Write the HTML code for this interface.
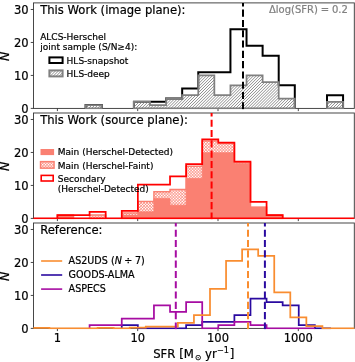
<!DOCTYPE html>
<html lang="en"><head><meta charset="utf-8"><title>SFR histograms</title>
<style>html,body{margin:0;padding:0;background:#ffffff}body{width:355px;height:362px;overflow:hidden}svg{display:block}text{stroke:#000;stroke-width:0.2px}text.g{stroke:#808080}</style>
</head><body>
<svg width="355" height="362" viewBox="0 0 355 362" font-family="'DejaVu Sans', 'Liberation Sans', sans-serif" stroke-linecap="butt">
<defs>
<clipPath id="c1"><rect x="33.45" y="2.9" width="320.85" height="106.3"/></clipPath>
<clipPath id="c2"><rect x="33.45" y="113" width="320.85" height="106.2"/></clipPath>
<clipPath id="c3"><rect x="33.45" y="223" width="320.85" height="106.2"/></clipPath>
</defs>
<rect width="355" height="362" fill="#ffffff"/>
<rect x="33.45" y="2.9" width="320.85" height="105.5" fill="none" stroke="#333333" stroke-width="0.9"/>
<line x1="57.4" x2="57.4" y1="108.4" y2="111.1" stroke="#333333" stroke-width="0.9"/>
<line x1="137.7" x2="137.7" y1="108.4" y2="111.1" stroke="#333333" stroke-width="0.9"/>
<line x1="218" x2="218" y1="108.4" y2="111.1" stroke="#333333" stroke-width="0.9"/>
<line x1="298.3" x2="298.3" y1="108.4" y2="111.1" stroke="#333333" stroke-width="0.9"/>
<line x1="30.75" x2="33.45" y1="108.4" y2="108.4" stroke="#333333" stroke-width="0.9"/>
<text x="28.55" y="112.7" font-size="11.5" text-anchor="end" fill="#000000">0</text>
<line x1="30.75" x2="33.45" y1="75.43" y2="75.43" stroke="#333333" stroke-width="0.9"/>
<text x="28.55" y="79.73" font-size="11.5" text-anchor="end" fill="#000000">10</text>
<line x1="30.75" x2="33.45" y1="42.46" y2="42.46" stroke="#333333" stroke-width="0.9"/>
<text x="28.55" y="46.76" font-size="11.5" text-anchor="end" fill="#000000">20</text>
<line x1="30.75" x2="33.45" y1="9.49" y2="9.49" stroke="#333333" stroke-width="0.9"/>
<text x="28.55" y="13.79" font-size="11.5" text-anchor="end" fill="#000000">30</text>
<text transform="translate(9.3 56.35) rotate(-90)" font-size="12.5" font-style="italic" text-anchor="middle" fill="#000000">N</text>
<rect x="33.45" y="113" width="320.85" height="105.4" fill="none" stroke="#333333" stroke-width="0.9"/>
<line x1="57.4" x2="57.4" y1="218.4" y2="221.1" stroke="#333333" stroke-width="0.9"/>
<line x1="137.7" x2="137.7" y1="218.4" y2="221.1" stroke="#333333" stroke-width="0.9"/>
<line x1="218" x2="218" y1="218.4" y2="221.1" stroke="#333333" stroke-width="0.9"/>
<line x1="298.3" x2="298.3" y1="218.4" y2="221.1" stroke="#333333" stroke-width="0.9"/>
<line x1="30.75" x2="33.45" y1="218.4" y2="218.4" stroke="#333333" stroke-width="0.9"/>
<text x="28.55" y="222.7" font-size="11.5" text-anchor="end" fill="#000000">0</text>
<line x1="30.75" x2="33.45" y1="185.43" y2="185.43" stroke="#333333" stroke-width="0.9"/>
<text x="28.55" y="189.73" font-size="11.5" text-anchor="end" fill="#000000">10</text>
<line x1="30.75" x2="33.45" y1="152.46" y2="152.46" stroke="#333333" stroke-width="0.9"/>
<text x="28.55" y="156.76" font-size="11.5" text-anchor="end" fill="#000000">20</text>
<line x1="30.75" x2="33.45" y1="119.49" y2="119.49" stroke="#333333" stroke-width="0.9"/>
<text x="28.55" y="123.79" font-size="11.5" text-anchor="end" fill="#000000">30</text>
<text transform="translate(9.3 166.4) rotate(-90)" font-size="12.5" font-style="italic" text-anchor="middle" fill="#000000">N</text>
<rect x="33.45" y="223" width="320.85" height="105.4" fill="none" stroke="#333333" stroke-width="0.9"/>
<line x1="57.4" x2="57.4" y1="328.4" y2="331.1" stroke="#333333" stroke-width="0.9"/>
<line x1="137.7" x2="137.7" y1="328.4" y2="331.1" stroke="#333333" stroke-width="0.9"/>
<line x1="218" x2="218" y1="328.4" y2="331.1" stroke="#333333" stroke-width="0.9"/>
<line x1="298.3" x2="298.3" y1="328.4" y2="331.1" stroke="#333333" stroke-width="0.9"/>
<line x1="30.75" x2="33.45" y1="328.4" y2="328.4" stroke="#333333" stroke-width="0.9"/>
<text x="28.55" y="332.7" font-size="11.5" text-anchor="end" fill="#000000">0</text>
<line x1="30.75" x2="33.45" y1="295.43" y2="295.43" stroke="#333333" stroke-width="0.9"/>
<text x="28.55" y="299.73" font-size="11.5" text-anchor="end" fill="#000000">10</text>
<line x1="30.75" x2="33.45" y1="262.46" y2="262.46" stroke="#333333" stroke-width="0.9"/>
<text x="28.55" y="266.76" font-size="11.5" text-anchor="end" fill="#000000">20</text>
<line x1="30.75" x2="33.45" y1="229.49" y2="229.49" stroke="#333333" stroke-width="0.9"/>
<text x="28.55" y="233.79" font-size="11.5" text-anchor="end" fill="#000000">30</text>
<text transform="translate(9.3 276.4) rotate(-90)" font-size="12.5" font-style="italic" text-anchor="middle" fill="#000000">N</text>
<text x="57.4" y="341.8" font-size="11.5" text-anchor="middle" fill="#000000">1</text>
<text x="137.7" y="341.8" font-size="11.5" text-anchor="middle" fill="#000000">10</text>
<text x="218" y="341.8" font-size="11.5" text-anchor="middle" fill="#000000">100</text>
<text x="298.3" y="341.8" font-size="11.5" text-anchor="middle" fill="#000000">1000</text>
<text x="153.2" y="358.3" font-size="11.7" word-spacing="0.15" fill="#000000">SFR [M</text>
<text x="198.2" y="359.9" font-size="7.6" text-anchor="middle" fill="#000000">⊙</text>
<text x="205" y="358.3" font-size="11.7" fill="#000000">yr</text>
<text x="217" y="353.3" font-size="8.2" fill="#000000">−1</text>
<text x="229.7" y="358.3" font-size="11.7" fill="#000000">]</text>
<g clip-path="url(#c1)">
<path d="M85.63 108.4 L85.63 105.1 L101.72 105.1 L101.72 108.4" fill="none" stroke="#000000" stroke-width="2" stroke-linejoin="miter"/>
<path d="M133.9 108.4 L133.9 101.81 L149.99 101.81 L149.99 101.81 L166.08 101.81 L166.08 98.51 L182.17 98.51 L182.17 88.62 L198.26 88.62 L198.26 72.13 L214.35 72.13 L214.35 72.13 L230.44 72.13 L230.44 29.27 L246.53 29.27 L246.53 45.76 L262.62 45.76 L262.62 55.65 L278.71 55.65 L278.71 85.32 L294.8 85.32 L294.8 108.4" fill="none" stroke="#000000" stroke-width="2" stroke-linejoin="miter"/>
<path d="M326.98 108.4 L326.98 95.21 L343.07 95.21 L343.07 108.4" fill="none" stroke="#000000" stroke-width="2" stroke-linejoin="miter"/>
<clipPath id="h1"><path d="M85.63 108.4 L85.63 105.1 L101.72 105.1 L101.72 108.4 Z"/></clipPath><path clip-path="url(#h1)" d="M85.63 102.53L101.72 86.44M85.63 105.47L101.72 89.38M85.63 108.41L101.72 92.32M85.63 111.35L101.72 95.26M85.63 114.29L101.72 98.2M85.63 117.23L101.72 101.14M85.63 120.17L101.72 104.08M85.63 123.11L101.72 107.02M85.63 126.05L101.72 109.96" stroke="#686868" stroke-width="0.75" fill="none"/>
<path d="M85.63 108.4 L85.63 105.1 L101.72 105.1 L101.72 108.4 Z" fill="none" stroke="#808080" stroke-width="1.75" stroke-linejoin="miter"/>
<clipPath id="h2"><path d="M133.9 108.4 L133.9 101.81 L149.99 101.81 L149.99 105.1 L166.08 105.1 L166.08 98.51 L182.17 98.51 L182.17 95.21 L198.26 95.21 L198.26 75.43 L214.35 75.43 L214.35 95.21 L230.44 95.21 L230.44 85.32 L246.53 85.32 L246.53 75.43 L262.62 75.43 L262.62 82.02 L278.71 82.02 L278.71 98.51 L294.8 98.51 L294.8 108.4 Z"/></clipPath><path clip-path="url(#h2)" d="M133.9 74.84L294.8 -86.06M133.9 77.78L294.8 -83.12M133.9 80.72L294.8 -80.18M133.9 83.66L294.8 -77.24M133.9 86.6L294.8 -74.3M133.9 89.54L294.8 -71.36M133.9 92.48L294.8 -68.42M133.9 95.42L294.8 -65.48M133.9 98.36L294.8 -62.54M133.9 101.3L294.8 -59.6M133.9 104.24L294.8 -56.66M133.9 107.18L294.8 -53.72M133.9 110.12L294.8 -50.78M133.9 113.06L294.8 -47.84M133.9 116L294.8 -44.9M133.9 118.94L294.8 -41.96M133.9 121.88L294.8 -39.02M133.9 124.82L294.8 -36.08M133.9 127.76L294.8 -33.14M133.9 130.7L294.8 -30.2M133.9 133.64L294.8 -27.26M133.9 136.58L294.8 -24.32M133.9 139.52L294.8 -21.38M133.9 142.46L294.8 -18.44M133.9 145.4L294.8 -15.5M133.9 148.34L294.8 -12.56M133.9 151.28L294.8 -9.62M133.9 154.22L294.8 -6.68M133.9 157.16L294.8 -3.74M133.9 160.1L294.8 -0.8M133.9 163.04L294.8 2.14M133.9 165.98L294.8 5.08M133.9 168.92L294.8 8.02M133.9 171.86L294.8 10.96M133.9 174.8L294.8 13.9M133.9 177.74L294.8 16.84M133.9 180.68L294.8 19.78M133.9 183.62L294.8 22.72M133.9 186.56L294.8 25.66M133.9 189.5L294.8 28.6M133.9 192.44L294.8 31.54M133.9 195.38L294.8 34.48M133.9 198.32L294.8 37.42M133.9 201.26L294.8 40.36M133.9 204.2L294.8 43.3M133.9 207.14L294.8 46.24M133.9 210.08L294.8 49.18M133.9 213.02L294.8 52.12M133.9 215.96L294.8 55.06M133.9 218.9L294.8 58M133.9 221.84L294.8 60.94M133.9 224.78L294.8 63.88M133.9 227.72L294.8 66.82M133.9 230.66L294.8 69.76M133.9 233.6L294.8 72.7M133.9 236.54L294.8 75.64M133.9 239.48L294.8 78.58M133.9 242.42L294.8 81.52M133.9 245.36L294.8 84.46M133.9 248.3L294.8 87.4M133.9 251.24L294.8 90.34M133.9 254.18L294.8 93.28M133.9 257.12L294.8 96.22M133.9 260.06L294.8 99.16M133.9 263L294.8 102.1M133.9 265.94L294.8 105.04M133.9 268.88L294.8 107.98M133.9 271.82L294.8 110.92" stroke="#686868" stroke-width="0.75" fill="none"/>
<path d="M133.9 108.4 L133.9 101.81 L149.99 101.81 L149.99 105.1 L166.08 105.1 L166.08 98.51 L182.17 98.51 L182.17 95.21 L198.26 95.21 L198.26 75.43 L214.35 75.43 L214.35 95.21 L230.44 95.21 L230.44 85.32 L246.53 85.32 L246.53 75.43 L262.62 75.43 L262.62 82.02 L278.71 82.02 L278.71 98.51 L294.8 98.51 L294.8 108.4 Z" fill="none" stroke="#808080" stroke-width="1.75" stroke-linejoin="miter"/>
<clipPath id="h3"><path d="M326.98 108.4 L326.98 101.81 L343.07 101.81 L343.07 108.4 Z"/></clipPath><path clip-path="url(#h3)" d="M326.98 99.32L343.07 83.23M326.98 102.26L343.07 86.17M326.98 105.2L343.07 89.11M326.98 108.14L343.07 92.05M326.98 111.08L343.07 94.99M326.98 114.02L343.07 97.93M326.98 116.96L343.07 100.87M326.98 119.9L343.07 103.81M326.98 122.84L343.07 106.75M326.98 125.78L343.07 109.69" stroke="#686868" stroke-width="0.75" fill="none"/>
<path d="M326.98 108.4 L326.98 101.81 L343.07 101.81 L343.07 108.4 Z" fill="none" stroke="#808080" stroke-width="1.75" stroke-linejoin="miter"/>
<line x1="243" x2="243" y1="-0.7" y2="113.4" stroke="#000000" stroke-width="2" stroke-dasharray="7.1 3.2"/>
</g>
<g clip-path="url(#c2)">
<path d="M57.4 218.4 L57.4 215.1 L73.49 215.1 L73.49 218.4 Z" fill="#ffffff" stroke="none"/>
<clipPath id="h4"><path d="M57.4 218.4 L57.4 215.1 L73.49 215.1 L73.49 218.4 Z"/></clipPath><path clip-path="url(#h4)" d="M57.4 213.08L73.49 196.99M57.4 216.02L73.49 199.93M57.4 218.96L73.49 202.87M57.4 221.9L73.49 205.81M57.4 224.84L73.49 208.75M57.4 227.78L73.49 211.69M57.4 230.72L73.49 214.63M57.4 233.66L73.49 217.57M57.4 236.6L73.49 220.51M57.4 219.1L73.49 235.19M57.4 216.16L73.49 232.25M57.4 213.22L73.49 229.31M57.4 210.28L73.49 226.37M57.4 207.34L73.49 223.43M57.4 204.4L73.49 220.49M57.4 201.46L73.49 217.55M57.4 198.52L73.49 214.61" stroke="#fa8072" stroke-width="0.8" fill="none"/>
<path d="M57.4 218.4 L57.4 215.1 L73.49 215.1 L73.49 218.4 Z" fill="none" stroke="#fa8072" stroke-width="1.5" stroke-linejoin="miter"/>
<path d="M89.58 218.4 L89.58 215.1 L105.67 215.1 L105.67 218.4 Z" fill="#ffffff" stroke="none"/>
<clipPath id="h5"><path d="M89.58 218.4 L89.58 215.1 L105.67 215.1 L105.67 218.4 Z"/></clipPath><path clip-path="url(#h5)" d="M89.58 213.24L105.67 197.15M89.58 216.18L105.67 200.09M89.58 219.12L105.67 203.03M89.58 222.06L105.67 205.97M89.58 225L105.67 208.91M89.58 227.94L105.67 211.85M89.58 230.88L105.67 214.79M89.58 233.82L105.67 217.73M89.58 236.76L105.67 220.67M89.58 218.94L105.67 235.03M89.58 216L105.67 232.09M89.58 213.06L105.67 229.15M89.58 210.12L105.67 226.21M89.58 207.18L105.67 223.27M89.58 204.24L105.67 220.33M89.58 201.3L105.67 217.39M89.58 198.36L105.67 214.45" stroke="#fa8072" stroke-width="0.8" fill="none"/>
<path d="M89.58 218.4 L89.58 215.1 L105.67 215.1 L105.67 218.4 Z" fill="none" stroke="#fa8072" stroke-width="1.5" stroke-linejoin="miter"/>
<path d="M121.76 218.4 L121.76 213.05 L137.85 213.05 L137.85 201.57 L153.94 201.57 L153.94 191.73 L170.03 191.73 L170.03 189.6 L186.12 189.6 L186.12 166.15 L202.21 166.15 L202.21 140.89 L218.3 140.89 L218.3 143.52 L234.39 143.52 L234.39 162.87 L250.48 162.87 L250.48 207.15 L266.57 207.15 L266.57 215.1 L282.66 215.1 L282.66 218.4 Z" fill="#ffffff" stroke="none"/>
<clipPath id="h6"><path d="M121.76 218.4 L121.76 213.05 L137.85 213.05 L137.85 201.57 L153.94 201.57 L153.94 191.73 L170.03 191.73 L170.03 189.6 L186.12 189.6 L186.12 166.15 L202.21 166.15 L202.21 140.89 L218.3 140.89 L218.3 143.52 L234.39 143.52 L234.39 162.87 L250.48 162.87 L250.48 207.15 L266.57 207.15 L266.57 215.1 L282.66 215.1 L282.66 218.4 Z"/></clipPath><path clip-path="url(#h6)" d="M121.76 139.9L282.66 -21M121.76 142.84L282.66 -18.06M121.76 145.78L282.66 -15.12M121.76 148.72L282.66 -12.18M121.76 151.66L282.66 -9.24M121.76 154.6L282.66 -6.3M121.76 157.54L282.66 -3.36M121.76 160.48L282.66 -0.42M121.76 163.42L282.66 2.52M121.76 166.36L282.66 5.46M121.76 169.3L282.66 8.4M121.76 172.24L282.66 11.34M121.76 175.18L282.66 14.28M121.76 178.12L282.66 17.22M121.76 181.06L282.66 20.16M121.76 184L282.66 23.1M121.76 186.94L282.66 26.04M121.76 189.88L282.66 28.98M121.76 192.82L282.66 31.92M121.76 195.76L282.66 34.86M121.76 198.7L282.66 37.8M121.76 201.64L282.66 40.74M121.76 204.58L282.66 43.68M121.76 207.52L282.66 46.62M121.76 210.46L282.66 49.56M121.76 213.4L282.66 52.5M121.76 216.34L282.66 55.44M121.76 219.28L282.66 58.38M121.76 222.22L282.66 61.32M121.76 225.16L282.66 64.26M121.76 228.1L282.66 67.2M121.76 231.04L282.66 70.14M121.76 233.98L282.66 73.08M121.76 236.92L282.66 76.02M121.76 239.86L282.66 78.96M121.76 242.8L282.66 81.9M121.76 245.74L282.66 84.84M121.76 248.68L282.66 87.78M121.76 251.62L282.66 90.72M121.76 254.56L282.66 93.66M121.76 257.5L282.66 96.6M121.76 260.44L282.66 99.54M121.76 263.38L282.66 102.48M121.76 266.32L282.66 105.42M121.76 269.26L282.66 108.36M121.76 272.2L282.66 111.3M121.76 275.14L282.66 114.24M121.76 278.08L282.66 117.18M121.76 281.02L282.66 120.12M121.76 283.96L282.66 123.06M121.76 286.9L282.66 126M121.76 289.84L282.66 128.94M121.76 292.78L282.66 131.88M121.76 295.72L282.66 134.82M121.76 298.66L282.66 137.76M121.76 301.6L282.66 140.7M121.76 304.54L282.66 143.64M121.76 307.48L282.66 146.58M121.76 310.42L282.66 149.52M121.76 313.36L282.66 152.46M121.76 316.3L282.66 155.4M121.76 319.24L282.66 158.34M121.76 322.18L282.66 161.28M121.76 325.12L282.66 164.22M121.76 328.06L282.66 167.16M121.76 331L282.66 170.1M121.76 333.94L282.66 173.04M121.76 336.88L282.66 175.98M121.76 339.82L282.66 178.92M121.76 342.76L282.66 181.86M121.76 345.7L282.66 184.8M121.76 348.64L282.66 187.74M121.76 351.58L282.66 190.68M121.76 354.52L282.66 193.62M121.76 357.46L282.66 196.56M121.76 360.4L282.66 199.5M121.76 363.34L282.66 202.44M121.76 366.28L282.66 205.38M121.76 369.22L282.66 208.32M121.76 372.16L282.66 211.26M121.76 375.1L282.66 214.2M121.76 378.04L282.66 217.14M121.76 380.98L282.66 220.08M121.76 218.78L282.66 379.68M121.76 215.84L282.66 376.74M121.76 212.9L282.66 373.8M121.76 209.96L282.66 370.86M121.76 207.02L282.66 367.92M121.76 204.08L282.66 364.98M121.76 201.14L282.66 362.04M121.76 198.2L282.66 359.1M121.76 195.26L282.66 356.16M121.76 192.32L282.66 353.22M121.76 189.38L282.66 350.28M121.76 186.44L282.66 347.34M121.76 183.5L282.66 344.4M121.76 180.56L282.66 341.46M121.76 177.62L282.66 338.52M121.76 174.68L282.66 335.58M121.76 171.74L282.66 332.64M121.76 168.8L282.66 329.7M121.76 165.86L282.66 326.76M121.76 162.92L282.66 323.82M121.76 159.98L282.66 320.88M121.76 157.04L282.66 317.94M121.76 154.1L282.66 315M121.76 151.16L282.66 312.06M121.76 148.22L282.66 309.12M121.76 145.28L282.66 306.18M121.76 142.34L282.66 303.24M121.76 139.4L282.66 300.3M121.76 136.46L282.66 297.36M121.76 133.52L282.66 294.42M121.76 130.58L282.66 291.48M121.76 127.64L282.66 288.54M121.76 124.7L282.66 285.6M121.76 121.76L282.66 282.66M121.76 118.82L282.66 279.72M121.76 115.88L282.66 276.78M121.76 112.94L282.66 273.84M121.76 110L282.66 270.9M121.76 107.06L282.66 267.96M121.76 104.12L282.66 265.02M121.76 101.18L282.66 262.08M121.76 98.24L282.66 259.14M121.76 95.3L282.66 256.2M121.76 92.36L282.66 253.26M121.76 89.42L282.66 250.32M121.76 86.48L282.66 247.38M121.76 83.54L282.66 244.44M121.76 80.6L282.66 241.5M121.76 77.66L282.66 238.56M121.76 74.72L282.66 235.62M121.76 71.78L282.66 232.68M121.76 68.84L282.66 229.74M121.76 65.9L282.66 226.8M121.76 62.96L282.66 223.86M121.76 60.02L282.66 220.92M121.76 57.08L282.66 217.98M121.76 54.14L282.66 215.04M121.76 51.2L282.66 212.1M121.76 48.26L282.66 209.16M121.76 45.32L282.66 206.22M121.76 42.38L282.66 203.28M121.76 39.44L282.66 200.34M121.76 36.5L282.66 197.4M121.76 33.56L282.66 194.46M121.76 30.62L282.66 191.52M121.76 27.68L282.66 188.58M121.76 24.74L282.66 185.64M121.76 21.8L282.66 182.7M121.76 18.86L282.66 179.76M121.76 15.92L282.66 176.82M121.76 12.98L282.66 173.88M121.76 10.04L282.66 170.94M121.76 7.1L282.66 168M121.76 4.16L282.66 165.06M121.76 1.22L282.66 162.12M121.76 -1.72L282.66 159.18M121.76 -4.66L282.66 156.24M121.76 -7.6L282.66 153.3M121.76 -10.54L282.66 150.36M121.76 -13.48L282.66 147.42M121.76 -16.42L282.66 144.48M121.76 -19.36L282.66 141.54M121.76 -22.3L282.66 138.6" stroke="#fa8072" stroke-width="0.8" fill="none"/>
<path d="M121.76 218.4 L121.76 213.05 L137.85 213.05 L137.85 201.57 L153.94 201.57 L153.94 191.73 L170.03 191.73 L170.03 189.6 L186.12 189.6 L186.12 166.15 L202.21 166.15 L202.21 140.89 L218.3 140.89 L218.3 143.52 L234.39 143.52 L234.39 162.87 L250.48 162.87 L250.48 207.15 L266.57 207.15 L266.57 215.1 L282.66 215.1 L282.66 218.4 Z" fill="none" stroke="#fa8072" stroke-width="1.5" stroke-linejoin="miter"/>
<path d="M57.4 218.4 L57.4 215.1 L73.49 215.1 L73.49 218.4 Z" fill="#fa8072" stroke="#fa8072" stroke-width="0.8"/>
<path d="M121.76 218.4 L121.76 215.1 L137.85 215.1 L137.85 211.81 L153.94 211.81 L153.94 198.62 L170.03 198.62 L170.03 205.18 L186.12 205.18 L186.12 178.61 L202.21 178.61 L202.21 152.7 L218.3 152.7 L218.3 152.7 L234.39 152.7 L234.39 163.85 L250.48 163.85 L250.48 207.15 L266.57 207.15 L266.57 215.1 L282.66 215.1 L282.66 218.4 Z" fill="#fa8072" stroke="#fa8072" stroke-width="0.8"/>
<path d="M25.22 218.4 L25.22 218.4 L41.31 218.4 L41.31 218.4 L57.4 218.4 L57.4 215.1 L73.49 215.1 L73.49 215.1 L89.58 215.1 L89.58 211.81 L105.67 211.81 L105.67 218.4 L121.76 218.4 L121.76 210.76 L137.85 210.76 L137.85 184.68 L153.94 184.68 L153.94 184.68 L170.03 184.68 L170.03 176.48 L186.12 176.48 L186.12 164.02 L202.21 164.02 L202.21 139.25 L218.3 139.25 L218.3 142.53 L234.39 142.53 L234.39 161.56 L250.48 161.56 L250.48 201.9 L266.57 201.9 L266.57 215.1 L282.66 215.1 L282.66 218.4 L298.75 218.4 L298.75 218.4 L314.84 218.4 L314.84 218.4 L330.93 218.4 L330.93 218.4 L347.02 218.4 L347.02 218.4 L363.11 218.4 L363.11 218.4 L379.2 218.4 L379.2 218.4 Z" fill="none" stroke="#ff0000" stroke-width="1.75" stroke-linejoin="miter"/>
<line x1="211.6" x2="211.6" y1="109.4" y2="223.4" stroke="#ff0000" stroke-width="2" stroke-dasharray="7.1 3.2"/>
</g>
<g clip-path="url(#c3)">
<path d="M121.76 328.4 L121.76 325.1 L137.85 325.1 L137.85 328.4 L153.94 328.4 L153.94 328.4 L170.03 328.4 L170.03 328.4 L186.12 328.4 L186.12 325.1 L202.21 325.1 L202.21 321.81 L218.3 321.81 L218.3 321.81 L234.39 321.81 L234.39 315.21 L250.48 315.21 L250.48 298.73 L266.57 298.73 L266.57 302.02 L282.66 302.02 L282.66 305.32 L298.75 305.32 L298.75 325.1 L314.84 325.1 L314.84 328.4 L330.93 328.4 L330.93 328.4" fill="none" stroke="#2a0aa0" stroke-width="1.75" stroke-linejoin="miter"/>
<path d="M89.58 328.4 L89.58 325.1 L105.67 325.1 L105.67 325.1 L121.76 325.1 L121.76 318.51 L137.85 318.51 L137.85 318.51 L153.94 318.51 L153.94 305.32 L170.03 305.32 L170.03 311.91 L186.12 311.91 L186.12 302.02 L202.21 302.02 L202.21 328.4 L218.3 328.4 L218.3 325.1 L234.39 325.1 L234.39 321.81 L250.48 321.81 L250.48 325.1 L266.57 325.1 L266.57 328.4 L282.66 328.4 L282.66 328.4 L298.75 328.4 L298.75 328.4 L314.84 328.4 L314.84 328.4" fill="none" stroke="#a60ca2" stroke-width="1.75" stroke-linejoin="miter"/>
<path d="M17.28 328.4 L17.28 328.4 L33.34 328.4 L33.34 327.93 L49.4 327.93 L49.4 328.4 L65.46 328.4 L65.46 328.4 L81.52 328.4 L81.52 328.4 L97.58 328.4 L97.58 327.93 L113.64 327.93 L113.64 328.4 L129.7 328.4 L129.7 327.69 L145.76 327.69 L145.76 326.52 L161.82 326.52 L161.82 326.52 L177.88 326.52 L177.88 322.75 L193.94 322.75 L193.94 315.21 L210 315.21 L210 288.84 L226.06 288.84 L226.06 260.81 L242.12 260.81 L242.12 249.27 L258.18 249.27 L258.18 255.87 L274.24 255.87 L274.24 292.46 L290.3 292.46 L290.3 317.36 L306.36 317.36 L306.36 326.04 L322.42 326.04 L322.42 328.4 L338.48 328.4 L338.48 328.4 L354.54 328.4 L354.54 328.4 L370.6 328.4 L370.6 328.4" fill="none" stroke="#f98d30" stroke-width="1.75" stroke-linejoin="miter"/>
<line x1="175.8" x2="175.8" y1="219.4" y2="333.4" stroke="#a60ca2" stroke-width="2" stroke-dasharray="7.1 3.2"/>
<line x1="248" x2="248" y1="219.4" y2="333.4" stroke="#f98d30" stroke-width="2" stroke-dasharray="7.1 3.2"/>
<line x1="264.9" x2="264.9" y1="219.4" y2="333.4" stroke="#2a0aa0" stroke-width="2" stroke-dasharray="7.1 3.2"/>
</g>
<text x="40.2" y="13.5" font-size="11.6" fill="#000000">This Work (image plane):</text>
<text x="40.2" y="123.6" font-size="11.6" fill="#000000">This Work (source plane):</text>
<text x="40.2" y="234.2" font-size="11.6" fill="#000000">Reference:</text>
<text x="269" y="12.6" font-size="10" word-spacing="-0.35" class="g" fill="#808080">Δlog(SFR) = 0.2</text>
<text x="40.2" y="39.8" font-size="9" fill="#000000">ALCS-Herschel</text>
<text x="40.2" y="50" font-size="9" fill="#000000">joint sample (S/N≥4):</text>
<rect x="49.4" y="57.4" width="13.2" height="5.6" fill="none" stroke="#000000" stroke-width="2"/>
<text x="66.6" y="63.5" font-size="9.0" fill="#000000">HLS-snapshot</text>
<clipPath id="h7"><path d="M49.4 70.4h13.2v6h-13.2z"/></clipPath><path clip-path="url(#h7)" d="M49.4 68.2L62.6 55M49.4 71.14L62.6 57.94M49.4 74.08L62.6 60.88M49.4 77.02L62.6 63.82M49.4 79.96L62.6 66.76M49.4 82.9L62.6 69.7M49.4 85.84L62.6 72.64M49.4 88.78L62.6 75.58M49.4 91.72L62.6 78.52" stroke="#686868" stroke-width="0.75" fill="none"/>
<rect x="49.4" y="70.4" width="13.2" height="6" fill="none" stroke="#808080" stroke-width="2"/>
<text x="66.6" y="76.7" font-size="9.0" fill="#000000">HLS-deep</text>
<rect x="40.5" y="149" width="13.6" height="6.1" fill="#fa8072"/>
<text x="57.8" y="155.3" font-size="9" fill="#000000">Main (Herschel-Detected)</text>
<clipPath id="h8"><path d="M40.55 161.65h13.5v6.5h-13.5z"/></clipPath><path clip-path="url(#h8)" d="M40.55 159.37L54.05 145.87M40.55 162.31L54.05 148.81M40.55 165.25L54.05 151.75M40.55 168.19L54.05 154.69M40.55 171.13L54.05 157.63M40.55 174.07L54.05 160.57M40.55 177.01L54.05 163.51M40.55 179.95L54.05 166.45M40.55 182.89L54.05 169.39M40.55 169.91L54.05 183.41M40.55 166.97L54.05 180.47M40.55 164.03L54.05 177.53M40.55 161.09L54.05 174.59M40.55 158.15L54.05 171.65M40.55 155.21L54.05 168.71M40.55 152.27L54.05 165.77M40.55 149.33L54.05 162.83M40.55 146.39L54.05 159.89" stroke="#fa8072" stroke-width="0.8" fill="none"/>
<rect x="40.55" y="161.65" width="13.5" height="6.5" fill="none" stroke="#fa8072" stroke-width="1.5"/>
<text x="57.8" y="168.5" font-size="9" fill="#000000">Main (Herschel-Faint)</text>
<rect x="41.2" y="175.4" width="12" height="5.6" fill="none" stroke="#ff0000" stroke-width="1.6"/>
<text x="57.8" y="181.8" font-size="9" fill="#000000">Secondary</text>
<text x="57.8" y="192" font-size="9" fill="#000000">(Herschel-Detected)</text>
<line x1="41.1" x2="62.2" y1="261" y2="261" stroke="#f98d30" stroke-width="1.6"/>
<text x="68.6" y="264.3" font-size="9.6" fill="#000000">AS2UDS (<tspan font-style="italic">N</tspan><tspan dx="-0.7"> ÷</tspan><tspan dx="-0.4"> 7)</tspan></text>
<line x1="41.1" x2="62.2" y1="275" y2="275" stroke="#2a0aa0" stroke-width="1.6"/>
<text x="68.6" y="278.3" font-size="9.6" fill="#000000">GOODS-ALMA</text>
<line x1="41.1" x2="62.2" y1="289.1" y2="289.1" stroke="#a60ca2" stroke-width="1.6"/>
<text x="68.6" y="292.4" font-size="9.6" fill="#000000">ASPECS</text>
</svg>
</body></html>
